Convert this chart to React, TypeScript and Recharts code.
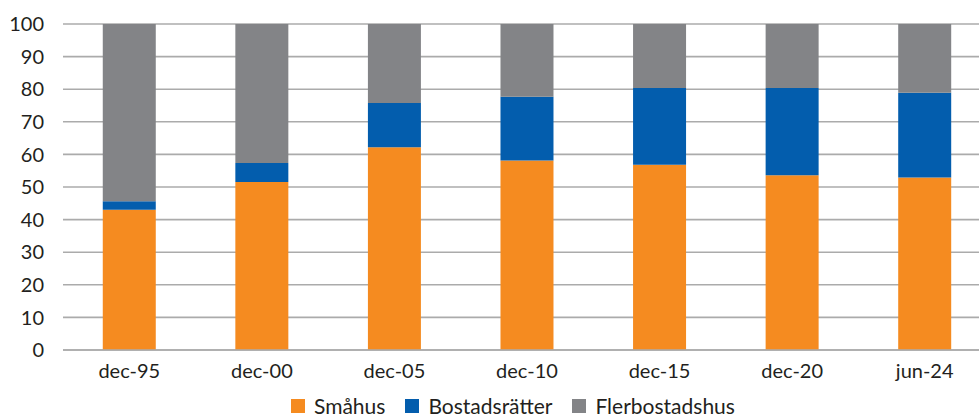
import React from "react";
import { BarChart, Bar, XAxis, YAxis, CartesianGrid, Legend } from "recharts";

const categories = ["dec-95", "dec-00", "dec-05", "dec-10", "dec-15", "dec-20", "jun-24"];
const smahus = [43.0, 51.5, 62.2, 58.1, 56.8, 53.6, 52.9];
const bostadsratter = [2.6, 5.9, 13.6, 19.6, 23.6, 26.8, 26.0];
const flerbostadshus = [54.4, 42.6, 24.2, 22.3, 19.6, 19.6, 21.1];
const seriesNames = ["Småhus", "Bostadsrätter", "Flerbostadshus"];
const yTicks = [0, 10, 20, 30, 40, 50, 60, 70, 80, 90, 100];

const data = categories.map((c, i) => ({
  name: c,
  smahus: smahus[i],
  bostadsratter: bostadsratter[i],
  flerbostadshus: flerbostadshus[i],
}));

const FONT = "Lato, 'Open Sans', sans-serif";
const GRID = "#ABABAB";

const LegendContent = (props: any) => {
  const payload = [...(props.payload || [])].sort(
    (a: any, b: any) => seriesNames.indexOf(a.value) - seriesNames.indexOf(b.value)
  );
  return (
    <div
      style={{
        display: "flex",
        justifyContent: "flex-start",
        alignItems: "center",
        height: 20,
        lineHeight: "20px",
        paddingLeft: 291,
        fontFamily: FONT,
        fontSize: 21,
        color: "#231F20",
      }}
    >
      {payload.map((p: any, i: number) => (
        <div key={i} style={{ display: "flex", alignItems: "center", marginRight: 20 }}>
          <div style={{ width: 14, height: 14, background: p.color, marginRight: 9 }} />
          <span>{p.value}</span>
        </div>
      ))}
    </div>
  );
};

export default function App() {
  return (
    <div style={{ position: "fixed", left: 0, top: 0, width: 979, height: 417, overflow: "hidden", background: "#fff" }}>
      <BarChart
        width={1000}
        height={417}
        data={data}
        margin={{ top: 24, right: 9, left: 8, bottom: 0 }}
        barCategoryGap="30%"
      >
        <CartesianGrid vertical={false} stroke={GRID} strokeWidth={1.6} />
        <XAxis
          dataKey="name"
          tickLine={false}
          axisLine={{ stroke: GRID, strokeWidth: 1.6 }}
          tick={{ fill: "#231F20", fontSize: 20, fontFamily: FONT }}
          tickSize={0}
          tickMargin={14}
          height={37}
          interval={0}
        />
        <YAxis
          domain={[0, 100]}
          ticks={yTicks}
          width={55}
          axisLine={false}
          tickLine={false}
          tickSize={0}
          tickMargin={19}
          tick={{ fill: "#231F20", fontSize: 20, fontFamily: FONT }}
          interval={0}
        />
        <Legend
          verticalAlign="bottom"
          height={30}
          content={<LegendContent />}
          wrapperStyle={{ top: 396, left: 0, bottom: "auto" }}
        />
        <Bar dataKey="smahus" name={seriesNames[0]} stackId="a" fill="#F58B20" isAnimationActive={false} />
        <Bar dataKey="bostadsratter" name={seriesNames[1]} stackId="a" fill="#035DAD" isAnimationActive={false} />
        <Bar dataKey="flerbostadshus" name={seriesNames[2]} stackId="a" fill="#838487" isAnimationActive={false} />
      </BarChart>
    </div>
  );
}
